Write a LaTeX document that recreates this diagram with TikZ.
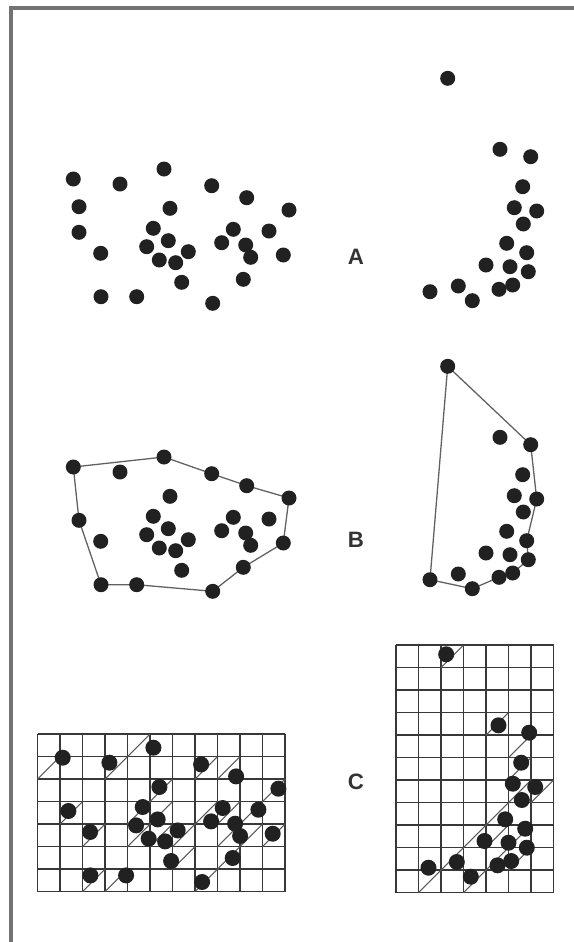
\documentclass[tikz,border=0pt]{standalone}
\usepackage{fontspec}
\setsansfont{Liberation Sans}
\usetikzlibrary{backgrounds}
\tikzset{
  pt/.style={circle, fill=black!87, draw=none, inner sep=0pt, minimum size=4.5mm},
  hullln/.style={draw=black!62, line width=1.1pt},
  gridln/.style={draw=black!78, line width=1.35pt},
  slashln/.style={draw=black!65, line width=0.9pt},
  panellbl/.style={font=\fontsize{19}{19}\selectfont\sffamily\bfseries, text=black!80, inner sep=0pt},
}
% point sets, pixel positions of panel A
\newcommand{\leftpts}{73.3/179, 120/184, 164/169, 211.7/185.7, 246.7/197.7, 289/210,
  170/208.3, 79/232.3, 153.3/228.3, 100.7/253.3, 146.7/246.7, 168.3/240.7, 188.3/251.7,
  159.3/260, 175.7/262.7, 181.7/282.3, 233.3/229.3, 221.7/242.7, 245.7/245, 250.7/257.3,
  269/231, 283.3/255, 243.3/279.3, 101/296.7, 136.7/296.7, 212.7/303.3}
\newcommand{\rightpts}{447.7/78.3, 500/149.3, 530.7/156.7, 522.7/186.7, 514.3/207.7,
  536.7/211, 523.3/224, 506.7/243.3, 526.7/252.7, 486/265, 510/266.7, 528.3/271.7,
  458.3/286, 512.7/285, 499/289.3, 430/291.7, 472.3/300.7}

\begin{document}
\begin{tikzpicture}[x=0.3mm, y=-0.3mm, cbox/.style={pt, minimum size=4.8mm}]
  \useasboundingbox (0,0) rectangle (574,942);
  \draw[black!55, line width=2.6pt] (11,942) -- (11,8) -- (576,8);

  % A: points only
  \foreach \x/\y [count=\i] in \leftpts
    \node[pt] (aL\i) at (\x,\y) {};
  \node[pt] (aLx) at (79,206.7) {};
  \foreach \x/\y [count=\i] in \rightpts
    \node[pt] (aR\i) at (\x,\y) {};
  \node[panellbl] (labA) at (356,257) {A};

  % B: convex hulls
  \begin{scope}[shift={(0,288)}]
    \foreach \x/\y [count=\i] in \leftpts
      \node[pt] (bL\i) at (\x,\y) {};
    \foreach \x/\y [count=\i] in \rightpts
      \node[pt] (bR\i) at (\x,\y) {};
  \end{scope}
  \begin{scope}[on background layer]
    \draw[hullln] (bL1.center) -- (bL3.center) -- (bL4.center) -- (bL5.center)
      -- (bL6.center) -- (bL22.center) -- (bL23.center) -- (bL26.center)
      -- (bL25.center) -- (bL24.center) -- (bL8.center) -- cycle;
    \draw[hullln] (bR1.center) -- (bR3.center) -- (bR6.center) -- (bR9.center)
      -- (bR12.center) -- (bR14.center) -- (bR15.center) -- (bR17.center)
      -- (bR16.center) -- cycle;
  \end{scope}
  \node[panellbl] (labB) at (356,540) {B};

  % C: grid cells
  \foreach \i in {0,...,11}
    \draw[gridln] ({37.5+\i*22.5},734) -- ++(0,157.5);
  \foreach \j in {0,...,7}
    \draw[gridln] (37.5,{734+\j*22.5}) -- ++(247.5,0);
  \foreach \c/\r in {0/1, 3/1, 4/0, 7/1, 8/1, 10/2, 5/2, 1/3, 4/3, 5/3, 2/4, 4/4, 5/4, 6/4,
                     8/3, 9/3, 7/3, 8/4, 9/4, 10/4, 6/5, 8/5, 2/6, 3/6, 7/6}
    \draw[slashln] ({37.5+\c*22.5},{756.5+\r*22.5}) -- ++(22.5,-22.5);
  \foreach \i in {0,...,7}
    \draw[gridln] ({396+\i*22.5},645) -- ++(0,247.5);
  \foreach \j in {0,...,11}
    \draw[gridln] (396,{645+\j*22.5}) -- ++(157.5,0);
  \foreach \c/\r in {2/0, 4/3, 5/4, 5/5, 5/6, 6/6, 4/7, 5/8, 3/8, 4/8, 5/9, 2/9, 4/9, 1/10, 3/10}
    \draw[slashln] ({396+\c*22.5},{667.5+\r*22.5}) -- ++(22.5,-22.5);
  \begin{scope}[shift={(-10.6,578.7)}]
    \foreach \x/\y [count=\i] in \leftpts
      \node[cbox] (cL\i) at (\x,\y) {};
  \end{scope}
  \begin{scope}[shift={(-1.5,576)}]
    \foreach \x/\y [count=\i] in \rightpts
      \node[cbox] (cR\i) at (\x,\y) {};
  \end{scope}
  \node[panellbl] (labC) at (356,782) {C};
\end{tikzpicture}
\end{document}
